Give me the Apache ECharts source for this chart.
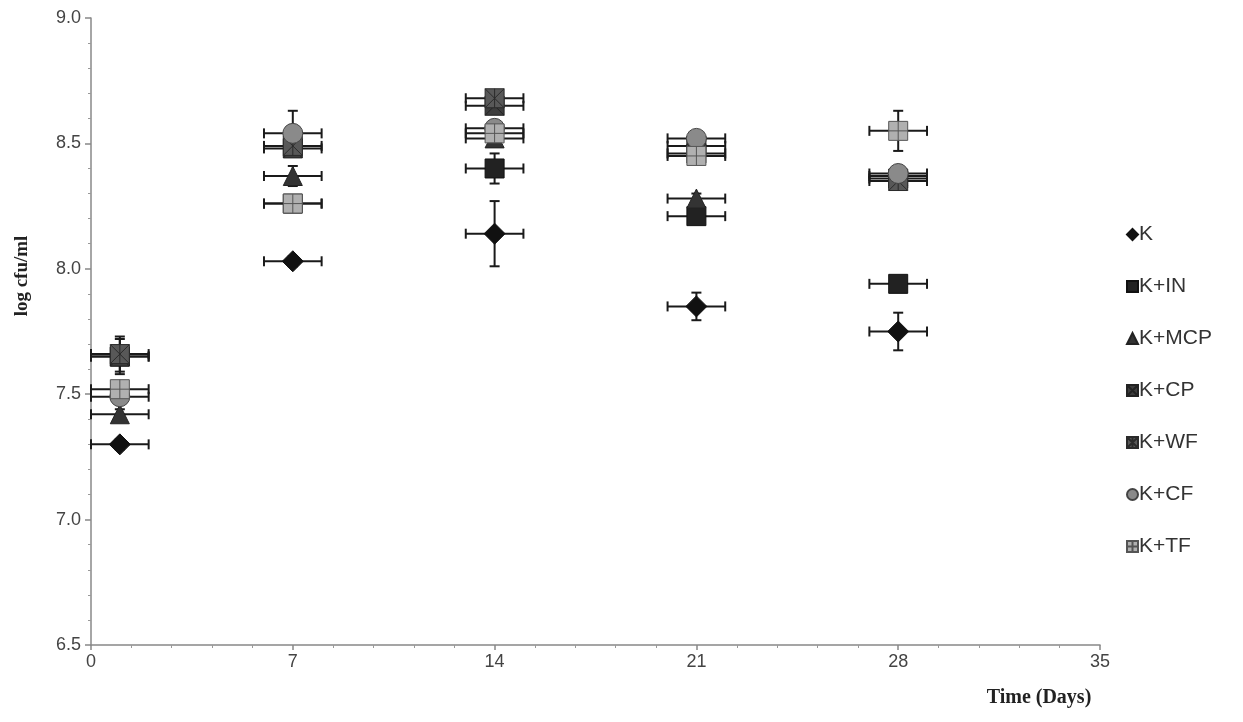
<!DOCTYPE html>
<html>
<head>
<meta charset="utf-8">
<script src="https://cdn.jsdelivr.net/npm/echarts@6/dist/echarts.min.js"></script>
<style>html,body{margin:0;padding:0;background:#fff}#c{width:1243px;height:722px}</style>
</head>
<body>
<div id="c"></div>
<script>
const days = [1, 7, 14, 21, 28];
const xErr = 1;
const seriesNames = ['K', 'K+IN', 'K+MCP', 'K+CP', 'K+WF', 'K+CF', 'K+TF'];
const K      = [7.30, 8.03, 8.14, 7.85, 7.75];
const K_err  = [0.02, 0.02, 0.13, 0.055, 0.075];
const K_IN   = [7.65, 8.26, 8.40, 8.21, 7.94];
const K_IN_err = [0.03, 0.02, 0.06, 0.02, 0.02];
const K_MCP  = [7.42, 8.37, 8.52, 8.28, 8.37];
const K_MCP_err = [0.02, 0.04, 0.03, 0.02, 0.02];
const K_CP   = [7.65, 8.48, 8.65, 8.49, 8.36];
const K_CP_err = [0.07, 0.03, 0.03, 0.02, 0.02];
const K_WF   = [7.66, 8.49, 8.68, 8.46, 8.35];
const K_WF_err = [0.07, 0.03, 0.02, 0.02, 0.02];
const K_CF   = [7.49, 8.54, 8.56, 8.52, 8.38];
const K_CF_err = [0.03, 0.09, 0.03, 0.02, 0.03];
const K_TF   = [7.52, 8.26, 8.54, 8.45, 8.55];
const K_TF_err = [0.03, 0.03, 0.04, 0.03, 0.08];
const yTicks = [6.5, 7.0, 7.5, 8.0, 8.5, 9.0];
const xTicks = [0, 7, 14, 21, 28, 35];

const values = [K, K_IN, K_MCP, K_CP, K_WF, K_CF, K_TF];
const errors = [K_err, K_IN_err, K_MCP_err, K_CP_err, K_WF_err, K_CF_err, K_TF_err];

const xSquare = 'path://M0 0H10V10H0Z M0 0L10 10M10 0L0 10';
const starSquare = 'path://M0 0H10V10H0Z M0 0L10 10M10 0L0 10M5 0V10';
const plusSquare = 'path://M0 0H10V10H0Z M5 0V10M0 5H10';
const styles = [
  {symbol: 'diamond', size: 21, color: '#111', border: '#111'},
  {symbol: 'rect', size: 19, color: '#222', border: '#111'},
  {symbol: 'triangle', size: 19, color: '#333', border: '#222'},
  {symbol: xSquare, size: 19, color: '#3d3d3d', border: '#222'},
  {symbol: starSquare, size: 19, color: '#585858', border: '#2a2a2a'},
  {symbol: 'circle', size: 20, color: '#8a8a8a', border: '#444'},
  {symbol: plusSquare, size: 19, color: '#b0b0b0', border: '#555'}
];

function errRender(params, api) {
  const x = api.value(0), y = api.value(1), e = api.value(2);
  const l = api.coord([x - xErr, y]), r = api.coord([x + xErr, y]);
  const s = {stroke: '#1a1a1a', lineWidth: 2};
  const cap = 5;
  const children = [
    {type: 'line', shape: {x1: l[0], y1: l[1], x2: r[0], y2: r[1]}, style: s},
    {type: 'line', shape: {x1: l[0], y1: l[1] - cap, x2: l[0], y2: l[1] + cap}, style: s},
    {type: 'line', shape: {x1: r[0], y1: r[1] - cap, x2: r[0], y2: r[1] + cap}, style: s}
  ];
  if (e > 0) {
    const t = api.coord([x, y + e]), b = api.coord([x, y - e]);
    children.push(
      {type: 'line', shape: {x1: t[0], y1: t[1], x2: b[0], y2: b[1]}, style: s},
      {type: 'line', shape: {x1: t[0] - cap, y1: t[1], x2: t[0] + cap, y2: t[1]}, style: s},
      {type: 'line', shape: {x1: b[0] - cap, y1: b[1], x2: b[0] + cap, y2: b[1]}, style: s}
    );
  }
  return {type: 'group', children: children};
}

const series = [];
seriesNames.forEach(function (name, i) {
  series.push({
    name: name + ' err', type: 'custom', renderItem: errRender,
    data: days.map(function (d, j) { return [d, values[i][j], errors[i][j]]; }),
    silent: true
  });
  series.push({
    name: name, type: 'scatter',
    symbol: styles[i].symbol, symbolSize: styles[i].size,
    itemStyle: {color: styles[i].color, borderColor: styles[i].border, borderWidth: 1, opacity: 1},
    data: days.map(function (d, j) { return [d, values[i][j]]; })
  });
});

const chart = echarts.init(document.getElementById('c'), null, {renderer: 'canvas'});
chart.setOption({
  backgroundColor: '#fff',
  animation: false,
  grid: {left: 91, right: 143, top: 18, bottom: 77},
  xAxis: {
    type: 'value', min: xTicks[0], max: xTicks[xTicks.length - 1], interval: 7,
    axisLine: {lineStyle: {color: '#888', width: 1.5}},
    axisTick: {show: true, length: 5, lineStyle: {color: '#888', width: 1.5}},
    minorTick: {show: true, splitNumber: 5, length: 3, lineStyle: {color: '#999'}},
    splitLine: {show: false},
    axisLabel: {fontSize: 18, color: '#444', fontFamily: 'Liberation Sans', margin: 8}
  },
  yAxis: {
    type: 'value', min: yTicks[0], max: yTicks[yTicks.length - 1], interval: 0.5,
    axisLine: {show: true, lineStyle: {color: '#888', width: 1.5}},
    axisTick: {show: true, length: 6, lineStyle: {color: '#888', width: 1.5}},
    minorTick: {show: true, splitNumber: 5, length: 3, lineStyle: {color: '#999'}},
    splitLine: {show: false},
    axisLabel: {fontSize: 18, color: '#444', fontFamily: 'Liberation Sans', margin: 10,
      formatter: function (v) { return v.toFixed(1); }}
  },
  legend: {
    orient: 'vertical', left: 1121, top: 219, itemGap: 31, itemWidth: 11, itemHeight: 11,
    data: seriesNames,
    textStyle: {fontSize: 21, color: '#333', fontFamily: 'Liberation Sans', padding: [0, 0, 0, -4]}
  },
  graphic: [
    {type: 'text', x: 22, y: 276, rotation: Math.PI / 2,
      style: {text: 'log cfu/ml', align: 'center', verticalAlign: 'middle',
        font: 'bold 19px "Liberation Serif"', fill: '#222'}},
    {type: 'text', x: 1039, y: 698,
      style: {text: 'Time (Days)', align: 'center', verticalAlign: 'middle',
        font: 'bold 20px "Liberation Serif"', fill: '#222'}}
  ],
  series: series
});
</script>
</body>
</html>
